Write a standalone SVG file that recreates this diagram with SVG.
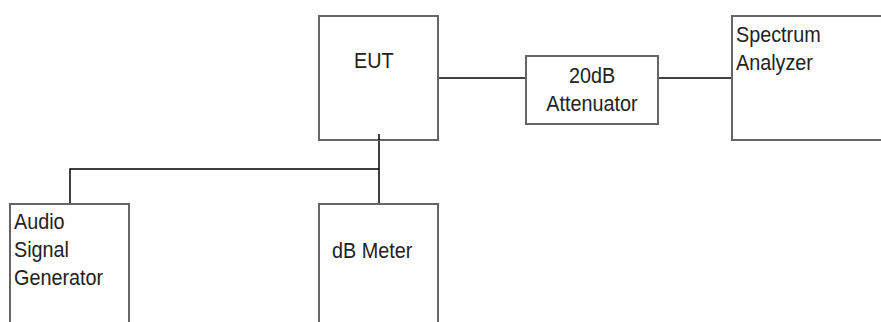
<svg xmlns="http://www.w3.org/2000/svg" width="881" height="322" viewBox="0 0 881 322">
<style>
.box{fill:#fff;stroke:#666;stroke-width:2}
.wire{stroke:#000;stroke-width:1.5;fill:none}
text{font-family:"Liberation Sans",Arial,sans-serif;font-size:22px;fill:#222}
</style>
<rect width="881" height="322" fill="#fff"/>
<g id="connectors">
<line class="wire" x1="438" y1="78" x2="526" y2="78"/>
<line class="wire" x1="658" y1="78" x2="732" y2="78"/>
<line class="wire" x1="379" y1="134" x2="379" y2="206"/>
<polyline class="wire" points="379,169 70,169 70,204"/>
</g>
<g id="eut">
<rect class="box" x="319" y="16" width="119" height="124"/>
<text transform="translate(354,68) scale(0.9,1)">EUT</text>
</g>
<g id="attenuator">
<rect class="box" x="526" y="56" width="132" height="68"/>
<text transform="translate(592,83) scale(0.9,1)" text-anchor="middle">20dB</text>
<text transform="translate(592,111) scale(0.9,1)" text-anchor="middle">Attenuator</text>
</g>
<g id="spectrum">
<rect class="box" x="732" y="16" width="160" height="124"/>
<text transform="translate(736,42) scale(0.9,1)">Spectrum</text>
<text transform="translate(736,70) scale(0.9,1)">Analyzer</text>
</g>
<g id="audio">
<rect class="box" x="10" y="204" width="119" height="130"/>
<text transform="translate(14,229) scale(0.9,1)">Audio</text>
<text transform="translate(14,257) scale(0.9,1)">Signal</text>
<text transform="translate(14,285) scale(0.9,1)">Generator</text>
</g>
<g id="dbmeter">
<rect class="box" x="319" y="204" width="119" height="130"/>
<text transform="translate(332,258) scale(0.9,1)">dB Meter</text>
</g>
<line class="wire" x1="379" y1="134" x2="379" y2="140"/>
</svg>
